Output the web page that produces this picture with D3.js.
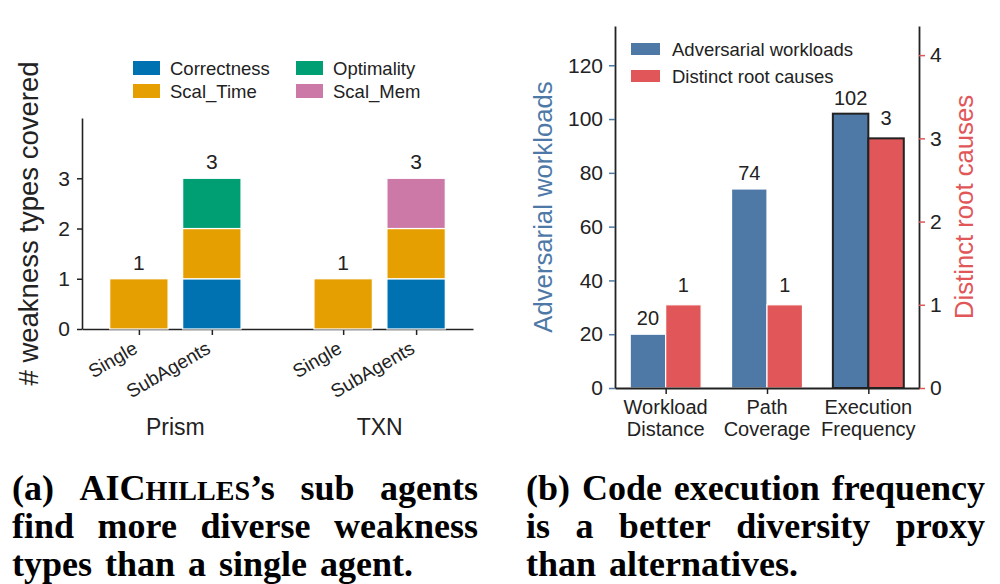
<!DOCTYPE html>
<html>
<head>
<meta charset="utf-8">
<script src="https://cdn.jsdelivr.net/npm/d3@7/dist/d3.min.js"></script>
<style>
body { margin:0; background:#fff; }
svg text { font-family:"Liberation Sans", Arial, Helvetica, sans-serif; fill:#222; }
svg text.cap { font-family:"Liberation Serif", "Times New Roman", serif; font-weight:bold; fill:#000; }
</style>
</head>
<body>
<svg id="chart" width="1000" height="584"></svg>
<script>

// data, chart (a)
var groups = ['Prism', 'TXN'];
var agents = ['Single', 'SubAgents'];
var weakTypes = ['Correctness', 'Scal_Time', 'Optimality', 'Scal_Mem'];
var correctness = [0, 1, 0, 1];   // Prism/Single, Prism/SubAgents, TXN/Single, TXN/SubAgents
var scalTime    = [1, 1, 1, 1];
var optimality  = [0, 1, 0, 0];
var scalMem     = [0, 0, 0, 1];
var weakTicks   = [0, 1, 2, 3];

// data, chart (b)
var proxies    = [['Workload', 'Distance'], ['Path', 'Coverage'], ['Execution', 'Frequency']];
var workloads  = [20, 74, 102];
var rootCauses = [1, 1, 3];
var workTicks  = [0, 20, 40, 60, 80, 100, 120];
var causeTicks = [0, 1, 2, 3, 4];

// captions
var captionA = ['(a) AIC{HILLES}’s sub agents', 'find more diverse weakness', 'types than a single agent.'];
var captionB = ['(b) Code execution frequency', 'is a better diversity proxy', 'than alternatives.'];

var colorWeak = ['#0072b2', '#e69f00', '#009e73', '#cc79a7'];
var colorBlue = '#4e79a7';
var colorRed = '#e15759';
var colorInk = '#222';

var svg = d3.select('#chart');

// ---------- chart (a) ----------
var bars = [];
var series = [correctness, scalTime, optimality, scalMem];
for (var i = 0; i < 4; i++) {
  var row = { group: groups[Math.floor(i / 2)], agent: agents[i % 2], pos: Math.floor(i / 2) * 2.8 + (i % 2) };
  weakTypes.forEach(function(t, k) { row[t] = series[k][i]; });
  bars.push(row);
}
var stacked = d3.stack().keys(weakTypes)(bars);

var xa = d3.scaleLinear().domain([-0.78, 4.58]).range([82, 473]);
var ya = d3.scaleLinear().domain([0, 4.2]).range([329, 118]);

var axA = svg.append('g');
var yAxisA = axA.append('g')
   .attr('transform', 'translate(' + xa.range()[0] + ',0)')
   .call(d3.axisLeft(ya).tickValues(weakTicks).tickFormat(d3.format('d')).tickSize(5).tickPadding(7).tickSizeOuter(0));
var xAxisA = axA.append('g')
   .attr('transform', 'translate(0,' + ya(0) + ')')
   .call(d3.axisBottom(xa).tickValues(bars.map(function(d){ return d.pos; })).tickFormat('').tickSize(6).tickSizeOuter(0));
axA.selectAll('.domain').attr('stroke', colorInk).attr('stroke-width', 1.6);
axA.selectAll('.tick line').attr('stroke', colorInk).attr('stroke-width', 1.5);
yAxisA.selectAll('.tick text').style('font-size', '21px').attr('fill', colorInk);

svg.append('g')
   .selectAll('g')
   .data(stacked)
   .join('g')
   .attr('fill', function(d, k){ return colorWeak[k]; })
   .selectAll('rect')
   .data(function(d){ return d; })
   .join('rect')
   .attr('x', function(d){ return xa(d.data.pos - 0.4); })
   .attr('width', xa(0.8) - xa(0))
   .attr('y', function(d){ return ya(d[1]); })
   .attr('height', function(d){ return ya(d[0]) - ya(d[1]); })
   .attr('stroke', '#fff')
   .attr('stroke-width', 1.2);

// totals above bars
svg.append('g')
   .selectAll('text')
   .data(bars)
   .join('text')
   .text(function(d){ return d3.sum(weakTypes, function(t){ return d[t]; }); })
   .attr('x', function(d){ return xa(d.pos); })
   .attr('y', function(d){ return ya(d3.sum(weakTypes, function(t){ return d[t]; })) - 9; })
   .attr('text-anchor', 'middle')
   .style('font-size', '21px');

// rotated agent labels
svg.append('g')
   .selectAll('text')
   .data(bars)
   .join('text')
   .text(function(d){ return d.agent; })
   .attr('text-anchor', 'end')
   .attr('transform', function(d){ return 'translate(' + xa(d.pos) + ',352) rotate(-30)'; })
   .style('font-size', '19px');

// group labels
svg.append('g')
   .selectAll('text')
   .data(groups)
   .join('text')
   .text(function(d){ return d; })
   .attr('x', function(d, k){ return xa(k * 2.8 + 0.5); })
   .attr('y', 435)
   .attr('text-anchor', 'middle')
   .style('font-size', '23px');

svg.append('text')
   .text('# weakness types covered')
   .attr('transform', 'translate(38,' + ((ya.range()[0] + ya.range()[1]) / 2) + ') rotate(-90)')
   .attr('text-anchor', 'middle')
   .style('font-size', '27.5px');

// legend (2 columns, filled column-wise)
var legA = svg.append('g');
weakTypes.forEach(function(t, k) {
  var col = Math.floor(k / 2), rowi = k % 2;
  var lx = 133 + col * 163, ly = 61 + rowi * 23;
  legA.append('rect').attr('x', lx).attr('y', ly).attr('width', 27).attr('height', 14).attr('fill', colorWeak[k]);
  legA.append('text').text(t).attr('x', lx + 37).attr('y', ly + 13.5).style('font-size', '18.5px');
});

// ---------- chart (b) ----------
var xb = d3.scaleLinear().domain([-0.5, 2.5]).range([615, 919]);
var ybL = d3.scaleLinear().domain([0, 134.6]).range([388, 26]);
var ybR = d3.scaleLinear().domain([0, 4.35]).range([388, 26]);
var bw = 0.35;

var barsB = svg.append('g');
barsB.selectAll('rect.work')
   .data(workloads)
   .join('rect')
   .attr('class', 'work')
   .attr('x', function(d, k){ return xb(k - bw); })
   .attr('width', xb(bw) - xb(0))
   .attr('y', function(d){ return ybL(d); })
   .attr('height', function(d){ return ybL(0) - ybL(d); })
   .attr('fill', colorBlue)
   .attr('stroke', function(d, k){ return k === 2 ? colorInk : '#fff'; })
   .attr('stroke-width', function(d, k){ return k === 2 ? 2 : 1.2; });
barsB.selectAll('rect.cause')
   .data(rootCauses)
   .join('rect')
   .attr('class', 'cause')
   .attr('x', function(d, k){ return xb(k); })
   .attr('width', xb(bw) - xb(0))
   .attr('y', function(d){ return ybR(d); })
   .attr('height', function(d){ return ybR(0) - ybR(d); })
   .attr('fill', colorRed)
   .attr('stroke', function(d, k){ return k === 2 ? colorInk : '#fff'; })
   .attr('stroke-width', function(d, k){ return k === 2 ? 2 : 1.2; });

barsB.selectAll('text.workv')
   .data(workloads)
   .join('text')
   .attr('class', 'workv')
   .text(function(d){ return d; })
   .attr('x', function(d, k){ return xb(k - bw / 2); })
   .attr('y', function(d){ return ybL(d) - 9; })
   .attr('text-anchor', 'middle')
   .style('font-size', '20px');
barsB.selectAll('text.causev')
   .data(rootCauses)
   .join('text')
   .attr('class', 'causev')
   .text(function(d){ return d; })
   .attr('x', function(d, k){ return xb(k + bw / 2); })
   .attr('y', function(d){ return ybR(d) - 13; })
   .attr('text-anchor', 'middle')
   .style('font-size', '20px');

var axB = svg.append('g');
var yAxisBL = axB.append('g')
   .attr('transform', 'translate(' + xb.range()[0] + ',0)')
   .call(d3.axisLeft(ybL).tickValues(workTicks).tickFormat(d3.format('d')).tickSize(6).tickPadding(6).tickSizeOuter(0));
var yAxisBR = axB.append('g')
   .attr('transform', 'translate(' + xb.range()[1] + ',0)')
   .call(d3.axisRight(ybR).tickValues(causeTicks).tickFormat(d3.format('d')).tickSize(6).tickPadding(5).tickSizeOuter(0));
var xAxisB = axB.append('g')
   .attr('transform', 'translate(0,' + ybL(0) + ')')
   .call(d3.axisBottom(xb).tickValues([0, 1, 2]).tickFormat('').tickSize(6).tickSizeOuter(0));
axB.selectAll('.domain').attr('stroke', colorInk).attr('stroke-width', 1.8);
xAxisB.selectAll('.tick line').attr('stroke', colorInk).attr('stroke-width', 1.5);
yAxisBL.selectAll('.tick line').attr('stroke', colorBlue).attr('stroke-width', 1.5);
yAxisBL.selectAll('.tick text').attr('fill', colorBlue).style('font-size', '21px');
yAxisBR.selectAll('.tick line').attr('stroke', colorRed).attr('stroke-width', 1.5);
yAxisBR.selectAll('.tick text').attr('fill', colorRed).style('font-size', '21px');

// two-line category labels
svg.append('g')
   .selectAll('text')
   .data(proxies)
   .join('text')
   .attr('text-anchor', 'middle')
   .style('font-size', '20px')
   .each(function(d, k) {
     var t = d3.select(this);
     d.forEach(function(line, j) {
       t.append('tspan').text(line).attr('x', xb(k)).attr('y', 414 + j * 22);
     });
   });

svg.append('text')
   .text('Adversarial workloads')
   .attr('transform', 'translate(552,' + ((ybL.range()[0] + ybL.range()[1]) / 2) + ') rotate(-90)')
   .attr('text-anchor', 'middle')
   .style('fill', colorBlue)
   .style('font-size', '25.7px');
svg.append('text')
   .text('Distinct root causes')
   .attr('transform', 'translate(973,' + ((ybR.range()[0] + ybR.range()[1]) / 2) + ') rotate(-90)')
   .attr('text-anchor', 'middle')
   .style('fill', colorRed)
   .style('font-size', '25.7px');

var legB = svg.append('g');
[['Adversarial workloads', colorBlue], ['Distinct root causes', colorRed]].forEach(function(e, k) {
  var ly = 43 + k * 27;
  legB.append('rect').attr('x', 631).attr('y', ly).attr('width', 29).attr('height', 12).attr('fill', e[1]);
  legB.append('text').text(e[0]).attr('x', 672).attr('y', ly + 12.5).style('font-size', '18.5px');
});

// ---------- captions (bold serif, justified word by word) ----------
function captionLine(str, x0, x1, y, size) {
  var words = str.split(' ');
  var nodes = words.map(function(w) {
    var t = svg.append('text').attr('class', 'cap').attr('y', y).style('font-size', size + 'px');
    w.split(/(\{[^}]*\})/).forEach(function(part) {
      if (!part) return;
      if (part.charAt(0) === '{') {
        t.append('tspan').text(part.slice(1, -1)).style('font-size', (size * 0.78) + 'px');
      } else {
        t.append('tspan').text(part);
      }
    });
    return t;
  });
  var widths = nodes.map(function(t){ return t.node().getComputedTextLength(); });
  var gap = (x1 - x0 - d3.sum(widths)) / (words.length - 1);
  var x = x0;
  nodes.forEach(function(t, k) {
    t.attr('x', x);
    x += widths[k] + gap;
  });
}

var capY = [500, 538, 576];
captionLine(captionA[0], 12, 478, capY[0], 36);
captionLine(captionA[1], 12, 478, capY[1], 36);
captionLine(captionA[2], 12, 413, capY[2], 36);
captionLine(captionB[0], 526, 985, capY[0], 36);
captionLine(captionB[1], 526, 985, capY[1], 36);
captionLine(captionB[2], 526, 798, capY[2], 36);

</script>
</body>
</html>
